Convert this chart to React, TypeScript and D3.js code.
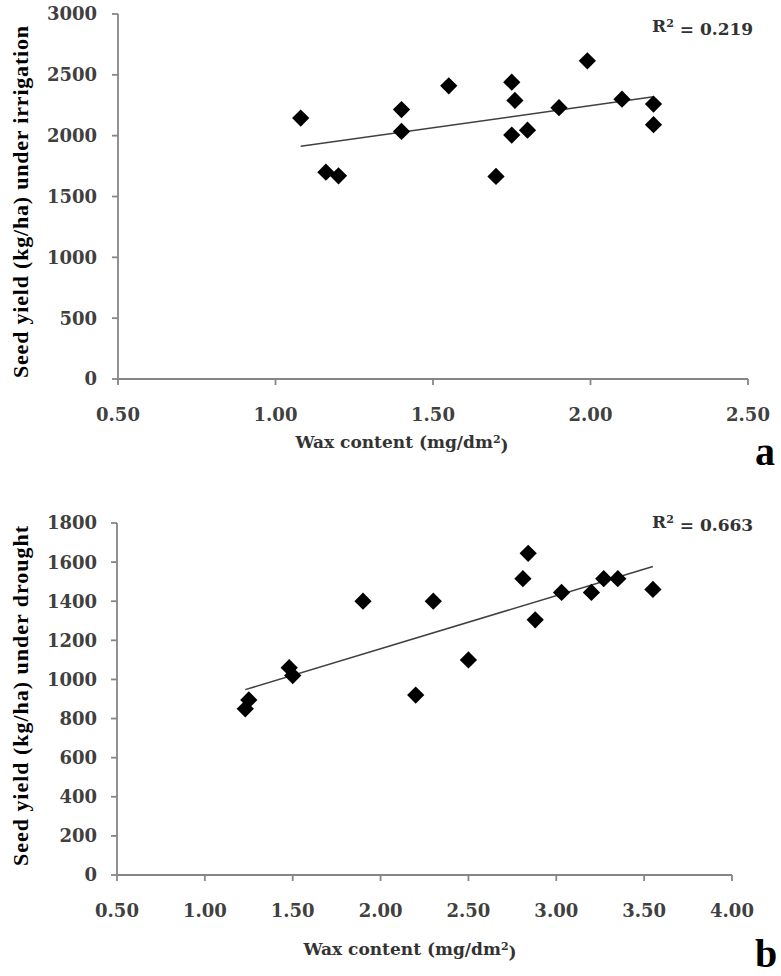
import React from "react";
import * as d3 from "d3";

// ---- Data ----
const topWax = [1.08, 1.16, 1.2, 1.4, 1.4, 1.55, 1.75, 1.76, 1.75, 1.8, 1.7, 1.9, 1.99, 2.1, 2.2, 2.2];
const topYield = [2145, 1700, 1670, 2215, 2035, 2410, 2440, 2290, 2005, 2045, 1665, 2230, 2615, 2300, 2260, 2090];
const bottomWax = [1.23, 1.25, 1.48, 1.5, 1.9, 2.3, 2.2, 2.5, 2.84, 2.81, 2.88, 3.03, 3.2, 3.27, 3.35, 3.55];
const bottomYield = [850, 895, 1060, 1020, 1400, 1400, 920, 1100, 1645, 1515, 1305, 1445, 1445, 1515, 1515, 1460];

const topXTicks = [0.5, 1.0, 1.5, 2.0, 2.5];
const topYTicks = [0, 500, 1000, 1500, 2000, 2500, 3000];
const bottomXTicks = [0.5, 1.0, 1.5, 2.0, 2.5, 3.0, 3.5, 4.0];
const bottomYTicks = [0, 200, 400, 600, 800, 1000, 1200, 1400, 1600, 1800];

const topR2 = "0.219";
const bottomR2 = "0.663";
const topYTitle = "Seed yield (kg/ha) under irrigation";
const bottomYTitle = "Seed yield (kg/ha) under drought";
const xTitle = "Wax content (mg/dm";

const TICK_FONT = "'DejaVu Serif', serif";
const TITLE_FONT = "'Liberation Serif', 'Times New Roman', serif";

type PanelProps = {
  xs: number[];
  ys: number[];
  xTicks: number[];
  yTicks: number[];
  xRange: [number, number];
  yRange: [number, number];
  r2: string;
  r2Pos: [number, number];
  yTitle: string;
  yTitleCenter: number;
  yTitleLength: number;
  xTitleCenter: number;
  xTitleBaseline: number;
  letter: string;
  letterPos: [number, number];
};

function Panel(p: PanelProps) {
  const x = d3.scaleLinear().domain([p.xTicks[0], p.xTicks[p.xTicks.length - 1]]).range(p.xRange);
  const y = d3.scaleLinear().domain([p.yTicks[0], p.yTicks[p.yTicks.length - 1]]).range(p.yRange);
  const fx = d3.format(".2f");
  const fy = d3.format("d");

  // least squares trend line
  const mx = d3.mean(p.xs)!;
  const my = d3.mean(p.ys)!;
  let sxy = 0, sxx = 0;
  p.xs.forEach((v, i) => {
    sxy += (v - mx) * (p.ys[i] - my);
    sxx += (v - mx) * (v - mx);
  });
  const slope = sxy / sxx;
  const icpt = my - slope * mx;
  const [x0, x1] = d3.extent(p.xs) as [number, number];
  const trend = d3.line<number>().x((d) => x(d)).y((d) => y(icpt + slope * d))([x0, x1]);

  const diamond = d3.symbol().type(d3.symbolDiamond2).size(190)();
  const axisColor = "#868686";
  const y0 = y(p.yTicks[0]);
  const xStart = x(p.xTicks[0]);

  return (
    <g>
      {/* axes */}
      <line x1={xStart} x2={x(p.xTicks[p.xTicks.length - 1])} y1={y0} y2={y0} stroke={axisColor} strokeWidth={1.8} />
      <line x1={xStart} x2={xStart} y1={y0} y2={y(p.yTicks[p.yTicks.length - 1])} stroke={axisColor} strokeWidth={1.8} />
      {p.yTicks.map((t) => (
        <g key={"yt" + t}>
          <line x1={xStart - 6} x2={xStart} y1={y(t)} y2={y(t)} stroke={axisColor} strokeWidth={1.8} />
          <text x={97} y={y(t)} dy="0.36em" textAnchor="end" fontFamily={TICK_FONT} fontWeight="bold" fontSize={18} fill="#404040">
            {fy(t)}
          </text>
        </g>
      ))}
      {p.xTicks.map((t) => (
        <g key={"xt" + t}>
          <line x1={x(t)} x2={x(t)} y1={y0} y2={y0 + 6} stroke={axisColor} strokeWidth={1.8} />
          <text x={x(t)} y={y0 + 42} textAnchor="middle" fontFamily={TICK_FONT} fontWeight="bold" fontSize={18} fill="#404040">
            {fx(t)}
          </text>
        </g>
      ))}
      {/* trend line */}
      <path d={trend || ""} fill="none" stroke="#404040" strokeWidth={1.5} />
      {/* points */}
      {p.xs.map((v, i) => (
        <path key={"pt" + i} d={diamond || ""} transform={`translate(${x(v)},${y(p.ys[i])})`} fill="#000" />
      ))}
      {/* R2 */}
      <text x={p.r2Pos[0]} y={p.r2Pos[1]} fontFamily={TICK_FONT} fontWeight="bold" fontSize={17} fill="#333">
        R<tspan dy="-0.45em" fontSize={11}>2</tspan>
        <tspan dy="0.45em"> = {p.r2}</tspan>
      </text>
      {/* axis titles */}
      <text x={p.xTitleCenter} y={p.xTitleBaseline} textAnchor="middle" fontFamily={TICK_FONT} fontWeight="bold" fontSize={17} fill="#333">
        {xTitle}
        <tspan dy="-0.45em" fontSize={11}>2</tspan>
        <tspan dy="0.45em">)</tspan>
      </text>
      <text
        transform={`translate(28,${p.yTitleCenter}) rotate(-90)`}
        textAnchor="middle"
        fontFamily={TITLE_FONT}
        fontWeight="bold"
        fontSize={22}
        fill="#000"
        textLength={p.yTitleLength}
        lengthAdjust="spacing"
      >
        {p.yTitle}
      </text>
      <text x={p.letterPos[0]} y={p.letterPos[1]} fontFamily={TITLE_FONT} fontWeight="bold" fontSize={40} fill="#000">
        {p.letter}
      </text>
    </g>
  );
}

export default function App() {
  return (
    <svg width={781} height={976} style={{ position: "absolute", left: 0, top: 0, background: "#fff" }}>
      <rect width={781} height={976} fill="#fff" />
      <Panel
        xs={topWax}
        ys={topYield}
        xTicks={topXTicks}
        yTicks={topYTicks}
        xRange={[118, 748]}
        yRange={[379, 14]}
        r2={topR2}
        r2Pos={[652, 32]}
        yTitle={topYTitle}
        yTitleCenter={202}
        yTitleLength={352}
        xTitleCenter={402}
        xTitleBaseline={448}
        letter="a"
        letterPos={[755, 465]}
      />
      <Panel
        xs={bottomWax}
        ys={bottomYield}
        xTicks={bottomXTicks}
        yTicks={bottomYTicks}
        xRange={[117, 732]}
        yRange={[875, 523]}
        r2={bottomR2}
        r2Pos={[652, 528]}
        yTitle={bottomYTitle}
        yTitleCenter={696}
        yTitleLength={340}
        xTitleCenter={410}
        xTitleBaseline={955}
        letter="b"
        letterPos={[755, 967]}
      />
    </svg>
  );
}
